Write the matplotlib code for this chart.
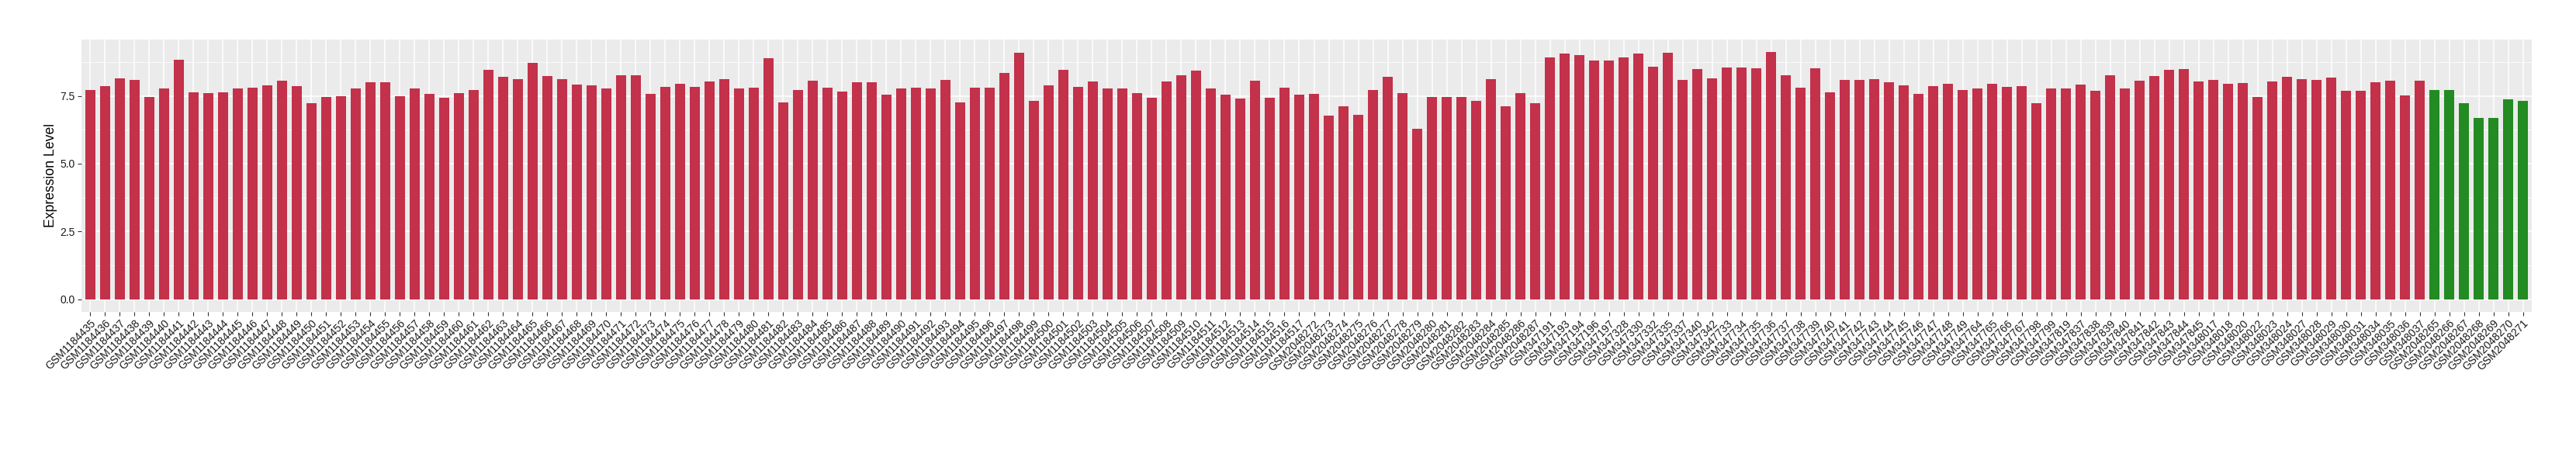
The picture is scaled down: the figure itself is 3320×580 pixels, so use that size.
import matplotlib
matplotlib.use("Agg")
import matplotlib.pyplot as plt
import numpy as np
from matplotlib.ticker import FixedLocator, FormatStrFormatter

plt.rcParams['font.family'] = ['Liberation Sans', 'DejaVu Sans']

# sample ids, in plotting order
gse_a_ids = [f"GSM{n}" for n in range(1184435, 1184518)]
gse_b_ids = [f"GSM{n}" for n in range(2048272, 2048288)]
gse_c_ids = [
    "GSM347191", "GSM347193", "GSM347194", "GSM347196", "GSM347197",
    "GSM347328", "GSM347330", "GSM347332", "GSM347335", "GSM347337",
    "GSM347340", "GSM347342", "GSM347733", "GSM347734", "GSM347735",
    "GSM347736", "GSM347737", "GSM347738", "GSM347739", "GSM347740",
    "GSM347741", "GSM347742", "GSM347743", "GSM347744", "GSM347745",
    "GSM347746", "GSM347747", "GSM347748", "GSM347749", "GSM347764",
    "GSM347765", "GSM347766", "GSM347767", "GSM347798", "GSM347799",
    "GSM347819", "GSM347837", "GSM347838", "GSM347839", "GSM347840",
    "GSM347841", "GSM347842", "GSM347843", "GSM347844", "GSM347845",
    "GSM348017", "GSM348018", "GSM348020", "GSM348022", "GSM348023",
    "GSM348024", "GSM348027", "GSM348028", "GSM348029", "GSM348030",
    "GSM348031", "GSM348034", "GSM348035", "GSM348036", "GSM348037",
]
control_ids = [f"GSM{n}" for n in range(2048265, 2048272)]

# expression values
gse_a_vals = [
    7.71, 7.86, 8.14, 8.09, 7.45, 7.78, 8.84, 7.63, 7.60, 7.63, 7.78, 7.81,
    7.89, 8.07, 7.86, 7.24, 7.45, 7.50, 7.76, 7.99, 8.01, 7.50, 7.78, 7.58,
    7.42, 7.60, 7.73, 8.45, 8.19, 8.12, 8.73, 8.22, 8.12, 7.91, 7.89, 7.76,
    8.27, 8.27, 7.58, 7.83, 7.94, 7.83,
    8.04, 8.12, 7.76, 7.81, 8.89, 7.27, 7.71, 8.07, 7.81, 7.65, 8.01, 8.01,
    7.55, 7.76, 7.81, 7.76, 8.09, 7.27, 7.81, 7.81, 8.35, 9.09, 7.32, 7.89,
    8.45, 7.83, 8.04, 7.76, 7.76, 7.60, 7.42, 8.04, 8.27, 8.42, 7.78, 7.55,
    7.40, 8.07, 7.42, 7.81, 7.55,
]
gse_b_vals = [
    7.58, 6.76, 7.11, 6.81, 7.73, 8.19, 7.60, 6.29, 7.47, 7.47, 7.47, 7.32,
    8.12, 7.11, 7.60, 7.22,
]
gse_c_vals = [
    8.91, 9.07, 8.99, 8.81, 8.81, 8.91, 9.07, 8.58, 9.09, 8.09, 8.48, 8.14,
    8.55, 8.55, 8.53, 9.12, 8.27, 7.81, 8.53, 7.63, 8.09, 8.09, 8.12, 8.01,
    7.89,
    7.58, 7.86, 7.94, 7.71, 7.78, 7.94, 7.83, 7.86, 7.22, 7.78, 7.76, 7.91,
    7.68, 8.27, 7.76, 8.07, 8.24, 8.45, 8.50, 8.04, 8.09, 7.94, 7.96, 7.47,
    8.04, 8.19, 8.12, 8.09, 8.17, 7.68, 7.68, 7.99, 8.07, 7.53, 8.07,
]
control_vals = [7.73, 7.73, 7.22, 6.68, 6.70, 7.37, 7.32]

case_color = "#C3314A"
control_color = "#228B22"


def main():
    labels = gse_a_ids + gse_b_ids + gse_c_ids + control_ids
    values = gse_a_vals + gse_b_vals + gse_c_vals + control_vals
    n_case = len(gse_a_vals) + len(gse_b_vals) + len(gse_c_vals)
    colors = [case_color] * n_case + [control_color] * len(control_vals)
    x = np.arange(len(values))

    fig = plt.figure(figsize=(33.2, 5.8), dpi=100)
    W, H = 3320, 580
    ax = fig.add_axes([105 / W, (H - 401.7) / H, 3158 / W, 350.7 / H])
    ax.set_facecolor("#EBEBEB")

    ax.bar(x, values, width=0.7, color=colors, zorder=3)

    ymax = max(values)
    ax.set_ylim(-0.05 * ymax, 1.05 * ymax)
    ax.set_xlim(-0.6, len(values) - 0.4)

    ax.set_yticks([0, 2.5, 5.0, 7.5])
    ax.yaxis.set_major_formatter(FormatStrFormatter("%.1f"))
    ax.yaxis.set_minor_locator(FixedLocator([1.25, 3.75, 6.25, 8.75]))
    ax.set_xticks(x)
    ax.set_xticklabels(labels, rotation=45, ha="right", va="top",
                       rotation_mode="anchor")

    ax.grid(which="major", color="white", linewidth=1.1, zorder=1)
    ax.grid(which="minor", axis="y", color="white", linewidth=0.55, zorder=1)
    ax.set_axisbelow(True)
    for s in ax.spines.values():
        s.set_visible(False)

    ax.tick_params(which="major", length=3.8, width=0.8, color="#333333",
                   labelsize=10, labelcolor="#1A1A1A", pad=2)
    ax.tick_params(which="minor", length=0)

    fig.text(65 / W, 1 - 226 / H, "Expression Level", rotation=90,
             ha="center", va="center", fontsize=12.7, color="black")

    fig.savefig("out.png", dpi=100)


if __name__ == "__main__":
    main()
